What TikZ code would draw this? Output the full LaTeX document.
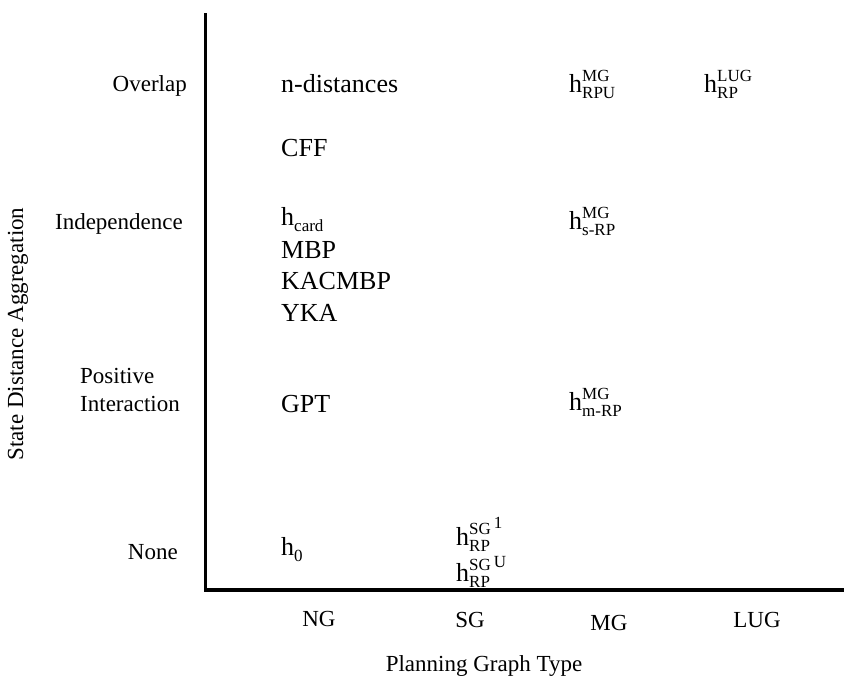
\documentclass[tikz,border=0pt]{standalone}
\usepackage{fontspec}
\setmainfont{Liberation Serif}
\newcommand{\hscr}[2]{h{\fontsize{17}{17}\selectfont\rlap{\raisebox{11pt}{#1}}\raisebox{-6pt}{#2}}}
\begin{document}
\begin{tikzpicture}[x=1pt,y=-1pt]
	\tikzstyle{Axis} = [line width=3.6pt]
	\tikzstyle{Label} = [font=\fontsize{23}{27}\selectfont,inner sep=0pt]
	\tikzstyle{Entry} = [font=\fontsize{26}{30}\selectfont,inner sep=0pt,anchor=base west]
	\useasboundingbox (0,0) rectangle (844,688);
	\coordinate (origin) at (205.5,590);
	\coordinate (ytop) at (205.5,13);
	\coordinate (xend) at (844,590);
	\draw[Axis] (ytop)--(origin)--(xend);
	% axis titles
	\node[Label,rotate=90] (ytitle) at (18,334) {State Distance Aggregation};
	\node[Label,anchor=base] (xtitle) at (484,671) {Planning Graph Type};
	% rows
	\node[Label,anchor=base east] (overlap) at (187,91) {Overlap};
	\node[Label,anchor=base east] (indep) at (183,229) {Independence};
	\node[Label,anchor=base west] (positive) at (80,383) {Positive};
	\node[Label,anchor=base west] (interact) at (80,411) {Interaction};
	\node[Label,anchor=base east] (none) at (178,559) {None};
	% columns
	\node[Label,anchor=base] (ng) at (319,626) {NG};
	\node[Label,anchor=base] (sg) at (470,627) {SG};
	\node[Label,anchor=base] (mg) at (609,630) {MG};
	\node[Label,anchor=base] (lug) at (757,627) {LUG};
	% NG entries
	\node[Entry] (ndist) at (281,92) {n-distances};
	\node[Entry] (cff) at (281,156) {CFF};
	\node[Entry] (hcard) at (281,225) {\hscr{}{card}};
	\node[Entry] (mbp) at (281,258) {MBP};
	\node[Entry] (kacmbp) at (281,289) {KACMBP};
	\node[Entry] (yka) at (281,321) {YKA};
	\node[Entry] (gpt) at (281,412) {GPT};
	\node[Entry] (hzero) at (281,555) {\hscr{}{0}};
	% SG entries
	\node[Entry] (sgone) at (456,545) {\hscr{SG\,\raisebox{6pt}{1}}{RP}};
	\node[Entry] (sgu) at (456,581) {\hscr{SG\,\raisebox{3pt}{U}}{RP}};
	% MG entries
	\node[Entry] (rpu) at (569,92) {\hscr{MG}{RPU}};
	\node[Entry] (srp) at (569,229) {\hscr{MG}{s-RP}};
	\node[Entry] (mrp) at (569,410) {\hscr{MG}{m-RP}};
	% LUG entries
	\node[Entry] (lugrp) at (704,92) {\hscr{LUG}{RP}};
\end{tikzpicture}
\end{document}
